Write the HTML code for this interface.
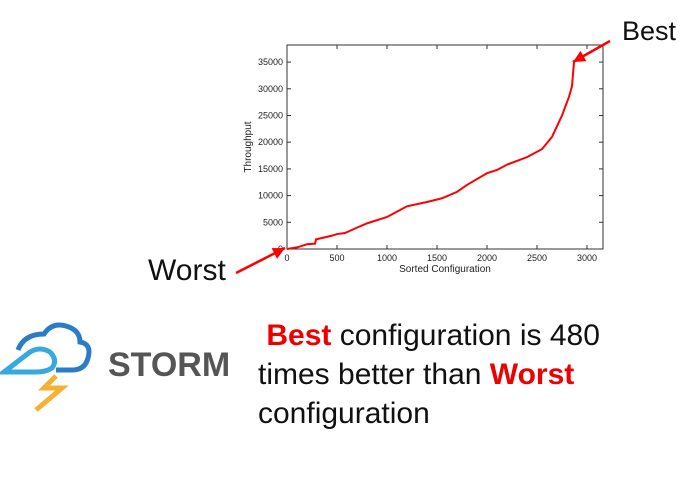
<!DOCTYPE html>
<html><head><meta charset="utf-8"><style>
body{margin:0;background:#fff;width:684px;height:484px;overflow:hidden;font-family:"Liberation Sans",sans-serif;}
svg{position:absolute;left:0;top:0}
.big{position:absolute;font-family:"Liberation Sans",sans-serif;color:#111;font-size:30px;line-height:39px}
</style></head><body>
<svg width="684" height="484">
<g id="plot"></g>
</svg>
<div class="big" style="left:622px;top:12px;font-size:27px">Best</div>
<div class="big" style="left:148px;top:251px;font-size:30px">Worst</div>
<div class="big" style="left:258px;top:316px;width:426px">
&nbsp;<b style="color:#e00">Best</b> configuration is 480<br>times better than <b style="color:#e00">Worst</b><br>configuration</div>
<svg width="684" height="484" style="pointer-events:none">
<path d="M18 350 Q24 334 44 334 Q52 322 66 326 Q80 330 80 342 Q92 344 88 358 Q85 370 72 370 L56 370" fill="none" stroke="#2a7cc7" stroke-width="5"/>
<path d="M4 372 L30 352 Q40 346 50 352 Q58 360 52 368 Q46 372 36 372 Z" fill="none" stroke="#37a8e0" stroke-width="5"/>
<path d="M56 376 L44 388 L62 388 L36 410" fill="none" stroke="#f6b035" stroke-width="5"/>
<text x="108" y="376" font-family="Liberation Sans" font-weight="bold" font-size="34" fill="#555">STORM</text>
</svg>
<script>
const xs=[0,100,150,200,280,290,450,500,580,700,800,1000,1100,1200,1400,1550,1700,1800,2000,2100,2200,2400,2550,2650,2750,2820,2850,2870];
const ys=[0,300,600,900,1000,1800,2500,2800,3000,4000,4800,6000,7000,8000,8800,9500,10700,12000,14200,14800,15800,17200,18700,21000,25000,28500,30500,35000];
const xTicks=[0,500,1000,1500,2000,2500,3000];
const yTicks=[0,5000,10000,15000,20000,25000,30000,35000];
const L=287,R=603,T=45,B=249,XMAX=3160,YMAX=38200;
const sx=v=>L+v/XMAX*(R-L), sy=v=>B-v/YMAX*(B-T);
const g=document.getElementById('plot');const NS='http://www.w3.org/2000/svg';
function mk(t,a,txt){const e=document.createElementNS(NS,t);for(const k in a)e.setAttribute(k,a[k]);if(txt!==undefined)e.textContent=txt;g.appendChild(e);return e;}
let f=mk('rect',{x:L,y:T,width:R-L,height:B-T,fill:'none',stroke:'#333','stroke-width':1});


xTicks.forEach(v=>{const x=sx(v);mk('line',{x1:x,x2:x,y1:B,y2:B-4,stroke:'#333'});mk('line',{x1:x,x2:x,y1:T,y2:T+4,stroke:'#333'});
const t=mk('text',{x:x,y:B+12,'font-size':9,'text-anchor':'middle',fill:'#222'},v);

});
yTicks.forEach(v=>{const y=sy(v);mk('line',{x1:L,x2:L+4,y1:y,y2:y,stroke:'#333'});mk('line',{x1:R,x2:R-4,y1:y,y2:y,stroke:'#333'});
const t=mk('text',{x:L-4,y:y+3,'font-size':9,'text-anchor':'end',fill:'#222'},v);

});
let xt=mk('text',{x:(L+R)/2,y:B+23,'font-size':10,'text-anchor':'middle',fill:'#222'},'Sorted Configuration');


let yt=mk('text',{x:0,y:0,'font-size':10,'text-anchor':'middle',fill:'#222',transform:`translate(251,${(T+B)/2}) rotate(-90)`},'Throughput');


let p=mk('polyline',{points:xs.map((x,i)=>sx(x)+','+sy(ys[i])).join(' '),fill:'none',stroke:'#f00','stroke-width':2});


function arrow(x1,y1,x2,y2,name){const l=mk('line',{x1,y1,x2,y2,stroke:'#f00','stroke-width':2.5});


const a=Math.atan2(y2-y1,x2-x1),s=12,w=6;
const bx=x2-s*Math.cos(a),by=y2-s*Math.sin(a);
mk('polygon',{points:`${x2},${y2} ${bx-w*Math.sin(a)},${by+w*Math.cos(a)} ${bx+w*Math.sin(a)},${by-w*Math.cos(a)}`,fill:'#f00'});}
arrow(610,41,573,62,'best-arrow');
arrow(236,273,285,248,'worst-arrow');
</script>
</body></html>
